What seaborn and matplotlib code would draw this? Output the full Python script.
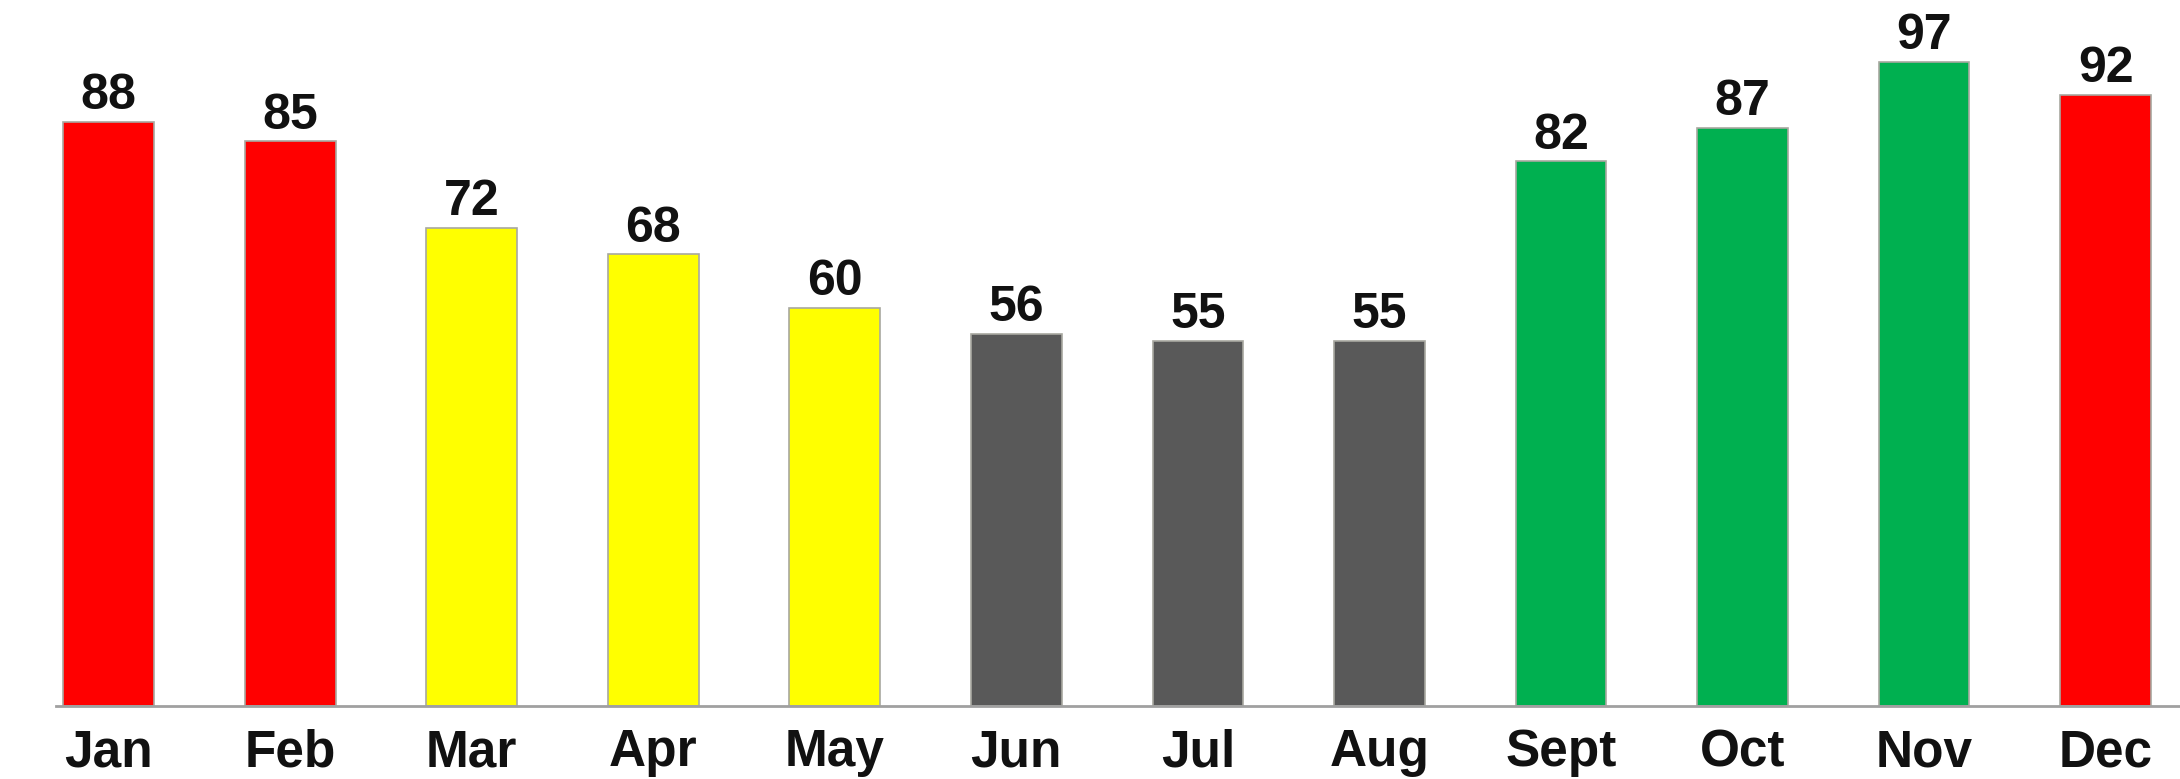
import matplotlib
matplotlib.use('Agg')
import matplotlib.pyplot as plt
import seaborn as sns

sns.set_theme(style='white')
plt.rcParams['font.family'] = ['Liberation Sans', 'DejaVu Sans']

MONTHS = ['Jan', 'Feb', 'Mar', 'Apr', 'May', 'Jun',
          'Jul', 'Aug', 'Sept', 'Oct', 'Nov', 'Dec']
VALUES = [88, 85, 72, 68, 60, 56, 55, 55, 82, 87, 97, 92]

RED    = '#FF0000'
YELLOW = '#FFFF00'
GREY   = '#595959'
GREEN  = '#00B050'
BAR_COLORS = [RED, RED, YELLOW, YELLOW, YELLOW, GREY,
              GREY, GREY, GREEN, GREEN, GREEN, RED]

fig = plt.figure(figsize=(21.8, 7.79), dpi=100)
ax = fig.add_axes([0.0257, 0.0937, 0.9743, 0.9063])

sns.barplot(x=MONTHS, y=VALUES, hue=MONTHS, palette=BAR_COLORS,
            legend=False, width=0.5, saturation=1, ax=ax,
            edgecolor='#a8a8a0', linewidth=1.2)

for cont in ax.containers:
    ax.bar_label(cont, fmt='%d', padding=2, fontsize=36,
                 fontweight='bold', color='#111111')

ax.set_xlim(-0.29, 11.41)
ax.set_ylim(0, 106.3)
ax.set_yticks([])
ax.set_xlabel('')
ax.set_ylabel('')
ax.tick_params(axis='x', length=0, pad=16, labelsize=37, labelcolor='#111111')
for lab in ax.get_xticklabels():
    lab.set_fontweight('bold')

for side in ['top', 'right', 'left']:
    ax.spines[side].set_visible(False)
ax.spines['bottom'].set_color('#a0a0a0')
ax.spines['bottom'].set_linewidth(2)

fig.savefig('out.png', dpi=100)
